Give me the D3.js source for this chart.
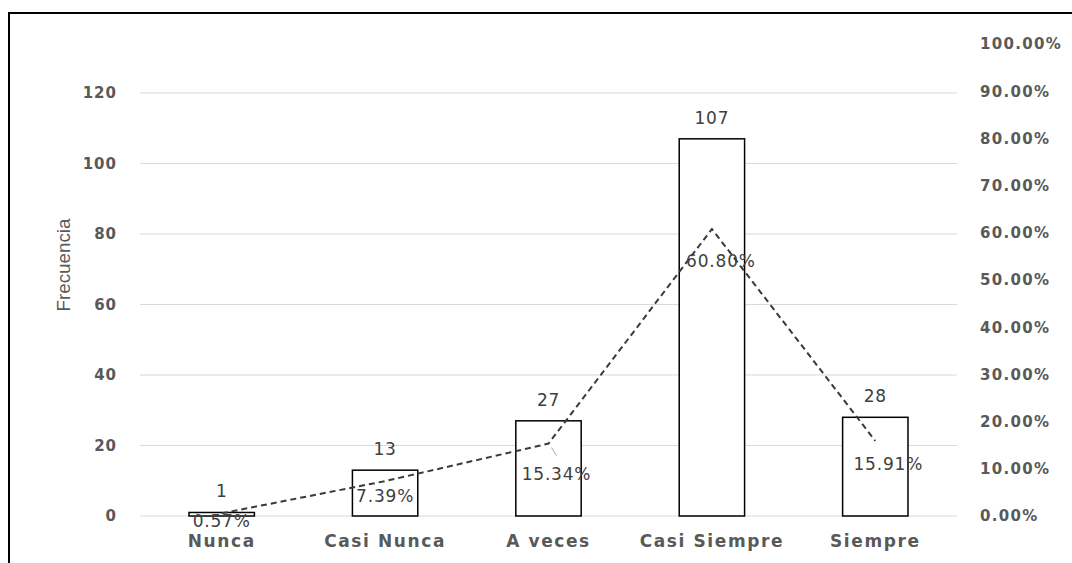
<!DOCTYPE html>
<html><head><meta charset="utf-8">
<script src="https://cdn.jsdelivr.net/npm/d3@7"></script>
<style>body{margin:0;background:#fff;} svg{display:block;}</style>
</head><body>
<svg id="c" width="1072" height="563"></svg>
<script>
const categories = ["Nunca", "Casi Nunca", "A veces", "Casi Siempre", "Siempre"];
const frecuencia = [1, 13, 27, 107, 28];
const porcentaje = [0.0057, 0.0739, 0.1534, 0.6080, 0.1591];
const leftTicks = [0, 20, 40, 60, 80, 100, 120];
const rightTicks = [0, 0.1, 0.2, 0.3, 0.4, 0.5, 0.6, 0.7, 0.8, 0.9, 1.0];
const pctLabels = ["0.57%", "7.39%", "15.34%", "60.80%", "15.91%"];

const svg = d3.select("#c");
const W = 1072, H = 563;
const left = 140, right = 957, top0 = 44, bottom = 516;

// frame
svg.append("path").attr("d", `M9,${H} L9,13 L${W},13`).attr("fill","none").attr("stroke","#000").attr("stroke-width",2);

const x = d3.scaleBand().domain(categories).range([left, right]).paddingInner(0.6).paddingOuter(0.3);
const yL = d3.scaleLinear().domain([0, 120]).range([bottom, bottom - 120 * (bottom - top0) / 133.9]);
const yR = d3.scaleLinear().domain([0, 1]).range([bottom, top0]);

// gridlines
svg.append("g").selectAll("line").data(leftTicks).join("line")
  .attr("x1", left).attr("x2", right)
  .attr("y1", d => yL(d)).attr("y2", d => yL(d))
  .attr("stroke", "#d9d9d9").attr("stroke-width", 1);

const tickFont = "'DejaVu Sans', Verdana, sans-serif";
// left axis
const gL = svg.append("g").attr("transform", `translate(${left},0)`)
  .call(d3.axisLeft(yL).tickValues(leftTicks).tickSize(0).tickPadding(23));
gL.select(".domain").remove();
gL.selectAll("text").attr("fill", "#595959").attr("font-size", 15).attr("font-weight", "bold")
  .attr("letter-spacing", 1).attr("font-family", tickFont);

// right axis
const gR = svg.append("g").attr("transform", `translate(${right},0)`)
  .call(d3.axisRight(yR).tickValues(rightTicks).tickSize(0).tickPadding(23).tickFormat(d3.format(".2%")));
gR.select(".domain").remove();
gR.selectAll("text").attr("fill", "#595959").attr("font-size", 15).attr("font-weight", "bold")
  .attr("letter-spacing", 1.3).attr("font-family", tickFont);

// bottom axis
const gB = svg.append("g").attr("transform", `translate(0,${bottom})`)
  .call(d3.axisBottom(x).tickSize(0).tickPadding(19));
gB.select(".domain").remove();
gB.selectAll("text").attr("fill", "#595959").attr("font-size", 17).attr("font-weight", "bold")
  .attr("letter-spacing", 1.6).attr("font-family", tickFont);

// y title
svg.append("text").attr("transform", `translate(70,265) rotate(-90)`)
  .attr("text-anchor", "middle").attr("font-size", 19).attr("fill", "#595959")
  .attr("textLength", 93).attr("lengthAdjust", "spacingAndGlyphs")
  .attr("font-family", "'Liberation Sans', Arial, sans-serif").text("Frecuencia");

// bars
svg.append("g").selectAll("rect").data(frecuencia).join("rect")
  .attr("x", (d, i) => x(categories[i])).attr("width", x.bandwidth())
  .attr("y", d => yL(d)).attr("height", d => bottom - yL(d))
  .attr("fill", "#fff").attr("stroke", "#000").attr("stroke-width", 1.5);

// bar labels
svg.append("g").selectAll("text").data(frecuencia).join("text")
  .attr("x", (d, i) => x(categories[i]) + x.bandwidth() / 2)
  .attr("y", d => yL(d) - 15)
  .attr("text-anchor", "middle").attr("font-size", 17).attr("fill", "#404040")
  .attr("letter-spacing", 0.8).attr("font-family", tickFont).text(d => d);

// line
const cx = i => x(categories[i]) + x.bandwidth() / 2;
const line = d3.line().x((d, i) => cx(i)).y(d => yR(d));
svg.append("path").datum(porcentaje).attr("d", line)
  .attr("fill", "none").attr("stroke", "#3a3a3a").attr("stroke-width", 2).attr("stroke-dasharray", "6,4");

// leader line for A veces
svg.append("line").attr("x1", cx(2) + 3).attr("y1", yR(porcentaje[2]) + 4)
  .attr("x2", cx(2) + 8).attr("y2", yR(porcentaje[2]) + 12).attr("stroke", "#a6a6a6").attr("stroke-width", 1);

// pct labels
const dxs = [0, 0, 8, 9, 13];
const dys = [14, 21, 36, 38, 29];
svg.append("g").selectAll("text").data(porcentaje).join("text")
  .attr("x", (d, i) => cx(i) + dxs[i])
  .attr("y", (d, i) => yR(d) + dys[i])
  .attr("text-anchor", "middle").attr("font-size", 17).attr("fill", "#404040")
  .attr("letter-spacing", 0.8).attr("font-family", tickFont).text((d, i) => pctLabels[i]);
</script>
</body></html>
